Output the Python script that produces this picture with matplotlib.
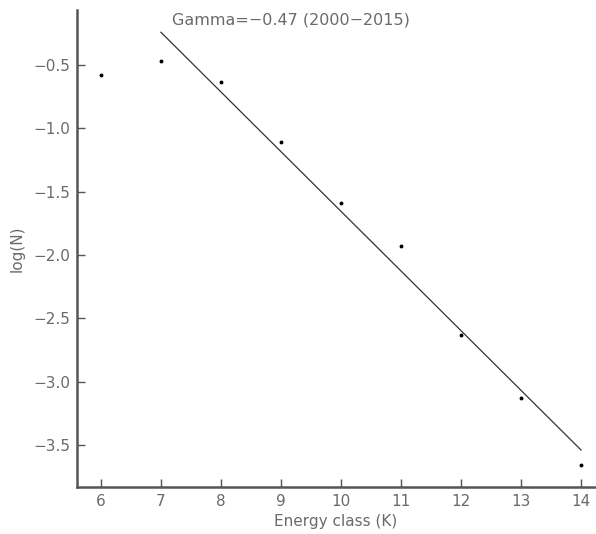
import matplotlib
matplotlib.use("Agg")
import matplotlib.pyplot as plt

energy_class = [6, 7, 8, 9, 10, 11, 12, 13, 14]
log_n = [-0.577, -0.468, -0.635, -1.11, -1.59, -1.93, -2.63, -3.13, -3.66]
fit_x = [7, 14]
fit_y = [-0.24, -3.54]
xticks = [6, 7, 8, 9, 10, 11, 12, 13, 14]
yticks = [-3.5, -3.0, -2.5, -2.0, -1.5, -1.0, -0.5]

gray = "#555555"
fig = plt.figure(figsize=(5.96, 5.34), dpi=100)
ax = fig.add_axes([0.129, 0.0886, 0.869, 0.8925])
ax.plot(energy_class, log_n, linestyle="none", marker="o", markersize=1.8, color="black")
ax.plot(fit_x, fit_y, color="#333333", linewidth=0.9)
ax.set_xlim(5.6, 14.23)
ax.set_ylim(-3.83, -0.065)
ax.set_xticks(xticks)
ax.set_yticks(yticks)
ax.set_yticklabels([f"{v:.1f}".replace("-", "\u2212") for v in yticks])
for s in ["top", "right"]:
    ax.spines[s].set_visible(False)
for s in ["left", "bottom"]:
    ax.spines[s].set_color(gray)
    ax.spines[s].set_linewidth(1.8)
ax.tick_params(direction="in", length=6, width=1, color=gray, labelcolor="#6a6a6a", labelsize=11, pad=5)
ax.set_xlabel("Energy class (K)", fontsize=11, color="#6a6a6a", labelpad=4)
ax.set_ylabel("log(N)", fontsize=11, color="#6a6a6a", labelpad=6)
ax.text(7.18, -0.145, "Gamma=\u22120.47 (2000\u22122015)", fontsize=11.5, color="#6a6a6a", va="center", ha="left")
fig.savefig("out.png", dpi=100)
